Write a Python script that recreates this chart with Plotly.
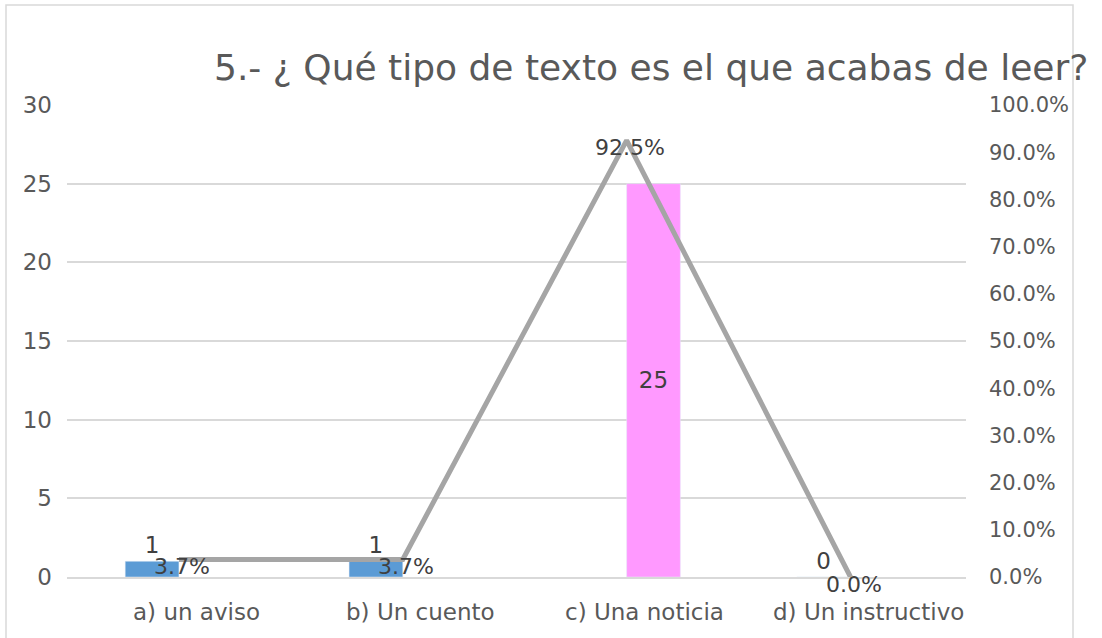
import plotly.graph_objects as go

categories = ["a) un aviso", "b) Un cuento", "c) Una noticia", "d) Un instructivo"]
blue_values = [1, 1, None, 0]
pink_values = [None, None, 25, None]
pct_values = [0.037, 0.037, 0.925, 0.0]
pct_labels = ["3.7%", "3.7%", "92.5%", "0.0%"]
title_text = "5.- ¿ Qué tipo de texto es el que acabas de leer?"

FONT = "DejaVu Sans"
TXT = "#595959"
LBL = "#404040"

fig = go.Figure()
fig.add_trace(go.Bar(
    x=categories, y=blue_values, marker_color="#5B9BD5",
    text=[("" if v is None else str(v)) for v in blue_values],
    textposition="outside", cliponaxis=False,
    textfont=dict(family=FONT, size=23, color=LBL),
    showlegend=False, yaxis="y"))
fig.add_trace(go.Bar(
    x=categories, y=pink_values, marker_color="#FF99FF",
    text=[("" if v is None else str(v)) for v in pink_values],
    textposition="inside", insidetextanchor="middle",
    textfont=dict(family=FONT, size=23, color=LBL),
    showlegend=False, yaxis="y"))
fig.add_trace(go.Scatter(
    x=categories, y=pct_values, mode="lines",
    line=dict(color="#A5A5A5", width=5),
    showlegend=False, yaxis="y2"))

W, H = 1102, 638
L, R, T, B = 67, 966, 105, 577
pw, ph = R - L, B - T

def px_x(x):
    return (x - L) / pw

def px_y(y):
    return (B - y) / ph

annotations = [dict(text=lab, x=c, xref="x", y=v, yref="y2",
                    xshift=3, yshift=-7, showarrow=False,
                    font=dict(family=FONT, size=22, color=LBL))
               for c, v, lab in zip(categories, pct_values, pct_labels)]
annotations += [dict(text=c, x=c, xref="x", y=px_y(612), yref="paper",
                     yanchor="middle", xshift=18, showarrow=False,
                     font=dict(family=FONT, size=23, color=TXT))
                for c in categories]
annotations.append(dict(text=title_text, x=px_x(651), xref="paper",
                        y=px_y(67), yref="paper", yanchor="middle",
                        xanchor="center", showarrow=False,
                        font=dict(family=FONT, size=36, color=TXT)))

fig.update_layout(
    width=W, height=H,
    margin=dict(l=L, r=W - R, t=T, b=H - B, autoexpand=False),
    paper_bgcolor="white", plot_bgcolor="white",
    barmode="group", bargap=0.52, bargroupgap=0,
    font=dict(family=FONT, color=TXT),
    xaxis=dict(showticklabels=False, showgrid=False, showline=True,
               linecolor="#D9D9D9", linewidth=2, ticks=""),
    yaxis=dict(range=[0, 30], dtick=5, showgrid=True, gridcolor="#D9D9D9",
               gridwidth=1.5, zeroline=False, showline=False,
               tickfont=dict(family=FONT, size=23, color=TXT),
               ticklabelstandoff=14),
    yaxis2=dict(range=[0, 1], dtick=0.1, tickformat=".1%", overlaying="y",
                side="right", showgrid=False, zeroline=False, showline=False,
                tickfont=dict(family=FONT, size=21, color=TXT),
                ticklabelstandoff=22),
    annotations=annotations,
    shapes=[dict(type="rect", xref="paper", yref="paper",
                 x0=px_x(6), x1=px_x(1073), y0=px_y(645), y1=px_y(5),
                 line=dict(color="#D9D9D9", width=1.5), layer="below")],
)

fig.write_html("out.html",
               config={"displayModeBar": False},
               post_script="document.body.style.margin='0';document.body.style.overflow='hidden';")
